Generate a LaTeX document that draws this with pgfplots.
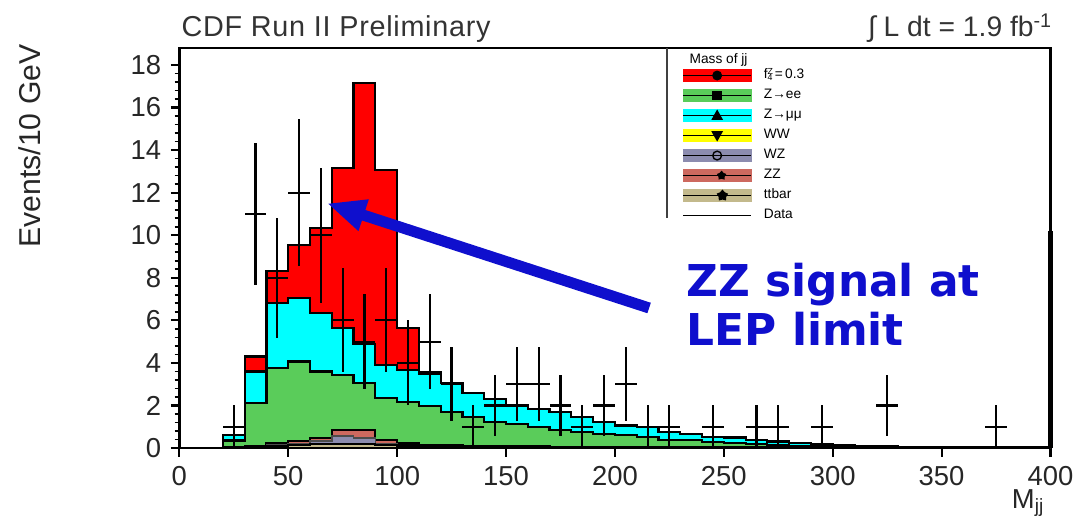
\documentclass[border=0pt]{standalone}
\usepackage{fontspec}
\setmainfont{Liberation Sans}
\newfontfamily\dejavu{DejaVu Sans}
\usepackage{pgfplots}
\usepackage{pgfplotstable}
\pgfplotsset{compat=1.18}
\usetikzlibrary{arrows.meta,shapes.geometric}

\definecolor{sigred}{RGB}{255,0,0}
\definecolor{zmm}{RGB}{0,255,255}
\definecolor{zee}{RGB}{90,204,90}
\definecolor{zzcol}{RGB}{205,105,95}
\definecolor{wzcol}{RGB}{140,140,175}
\definecolor{ttcol}{RGB}{195,185,140}
\definecolor{wwcol}{RGB}{255,255,0}
\definecolor{annblue}{RGB}{15,15,205}

% cumulative stack heights per 10 GeV bin (lower edge)
\pgfplotstableread{
lo red cyan green zz wz tt
20 0.62 0.62 0.35 0.03 0.02 0.01
30 4.30 3.60 2.10 0.08 0.05 0.03
40 8.30 6.80 3.75 0.23 0.15 0.10
50 9.55 7.04 4.07 0.34 0.22 0.15
60 10.33 6.34 3.60 0.47 0.32 0.20
70 13.15 5.65 3.44 0.86 0.55 0.20
80 17.14 4.90 3.05 0.86 0.47 0.18
90 13.07 3.90 2.35 0.39 0.20 0.15
100 5.63 3.68 2.15 0.23 0.15 0.12
110 3.55 3.49 1.96 0.15 0.12 0.10
120 3.05 3.05 1.69 0.12 0.10 0.08
130 2.58 2.58 1.46 0.10 0.08 0.07
140 2.30 2.30 1.22 0.09 0.07 0.06
150 2.00 2.00 1.14 0.08 0.06 0.05
160 1.85 1.85 0.99 0.07 0.05 0.04
170 1.69 1.69 0.83 0.06 0.05 0.04
180 1.46 1.46 0.75 0.05 0.04 0.03
190 1.22 1.22 0.67 0.05 0.04 0.03
200 1.06 1.06 0.60 0.04 0.03 0.03
210 0.99 0.99 0.52 0.04 0.03 0.02
220 0.75 0.75 0.39 0.03 0.03 0.02
230 0.67 0.67 0.36 0.03 0.02 0.02
240 0.52 0.52 0.28 0.03 0.02 0.02
250 0.49 0.49 0.23 0.02 0.02 0.01
260 0.39 0.39 0.18 0.02 0.02 0.01
270 0.31 0.31 0.14 0.02 0.01 0.01
280 0.23 0.23 0.10 0.02 0.01 0.01
290 0.19 0.19 0.08 0.01 0.01 0.01
300 0.14 0.14 0.06 0.01 0.01 0.01
310 0.10 0.10 0.05 0.01 0.01 0.01
320 0.07 0.07 0.04 0.01 0.01 0
330 0.06 0.06 0.03 0.01 0.01 0
340 0.05 0.05 0.03 0.01 0 0
350 0.05 0.05 0.02 0.01 0 0
360 0.04 0.04 0.02 0.01 0 0
370 0.04 0.04 0.02 0 0 0
380 0.03 0.03 0.01 0 0 0
390 0.03 0.03 0.01 0 0 0
400 0.03 0.03 0.01 0 0 0
}\hist

% data points, Poisson errors
\pgfplotstableread{
x y ey
25 1 1
35 11 3.317
45 8 2.828
55 12 3.464
65 10 3.162
75 6 2.449
85 5 2.236
95 6 2.449
105 4 2
115 5 2.236
125 3 1.732
135 1 1
145 2 1.414
155 3 1.732
165 3 1.732
175 2 1.414
185 1 1
195 2 1.414
205 3 1.732
215 1 1
225 1 1
245 1 1
265 1 1
275 1 1
295 1 1
325 2 1.414
375 1 1
}\data

\begin{document}
\begin{tikzpicture}
\path[use as bounding box] (-2.299cm,-0.962cm) rectangle (11.699cm,5.743cm);
\begin{axis}[
  at={(0,0)}, anchor=south west,
  scale only axis, width=11.167cm, height=5.128cm,
  xmin=0, xmax=400, ymin=0, ymax=18.8,
  xtick={0,50,...,400}, ytick={0,2,...,18},
  minor y tick num=4,
  xtick pos=bottom, ytick pos=left,
  tick align=outside,
  major tick length=0.11cm, minor tick length=0.06cm,
  axis line style={line width=1pt},
  every tick/.style={black, line width=0.8pt},
  every minor tick/.style={black, line width=0.6pt},
  ticklabel style={font=\fontsize{10}{12}\selectfont, text=black!85},
  /pgf/number format/assume math mode=true,
  clip=false,
  legend cell align=left,
  legend style={at={(axis description cs:0.577,0.9575)}, anchor=north west,
    draw=none, fill=none, inner sep=0pt, row sep=0pt, column sep=4.4bp,
    font=\fontsize{5}{6}\selectfont,
    nodes={inner sep=0pt, minimum height=7.27bp}},
]
\addplot[const plot, fill=sigred, draw=black, line width=0.8pt, forget plot] table[x=lo,y=red]{\hist} \closedcycle;
\addplot[const plot, fill=zmm, draw=black, line width=0.8pt, forget plot] table[x=lo,y=cyan]{\hist} \closedcycle;
\addplot[const plot, fill=zee, draw=black, line width=0.8pt, forget plot] table[x=lo,y=green]{\hist} \closedcycle;
\addplot[const plot, fill=zzcol, draw=black, line width=0.8pt, forget plot] table[x=lo,y=zz]{\hist} \closedcycle;
\addplot[const plot, fill=wzcol, draw=black!70, line width=0.6pt, forget plot] table[x=lo,y=wz]{\hist} \closedcycle;
\addplot[const plot, fill=ttcol, draw=black, line width=0.8pt, forget plot] table[x=lo,y=tt]{\hist} \closedcycle;

\addplot[mark=none, draw=none, forget plot,
  error bars/.cd, x dir=both, x fixed=5, y dir=both, y explicit,
  error mark=none, error bar style={draw=black, solid, line width=0.8pt}]
  table[x=x, y=y, y error=ey]{\data};

% overflow marker at the right edge
\addplot[black, line width=2pt, forget plot] coordinates {(400,0) (400,10.2)};

\addlegendimage{legend image code/.code={
  \fill[sigred] (0cm,-2.2bp) rectangle (0.87cm,2.2bp);
  \draw[black,line width=0.5pt] (0cm,0cm) -- (0.87cm,0cm);
  \fill[black] (0.435cm,0cm) circle (1.6bp);}}
\addlegendentry{f\rlap{\raisebox{1.3pt}{\fontsize{3.2}{3.5}\selectfont Z}}\raisebox{-0.6pt}{\fontsize{3.2}{3.5}\selectfont 4}\,=\,0.3}
\addlegendimage{legend image code/.code={
  \fill[zee] (0cm,-2.2bp) rectangle (0.87cm,2.2bp);
  \draw[black,line width=0.5pt] (0cm,0cm) -- (0.87cm,0cm);
  \fill[black] (0.435cm-1.6bp,-1.6bp) rectangle (0.435cm+1.6bp,1.6bp);}}
\addlegendentry{Z→ee}
\addlegendimage{legend image code/.code={
  \fill[zmm] (0cm,-2.2bp) rectangle (0.87cm,2.2bp);
  \draw[black,line width=0.5pt] (0cm,0cm) -- (0.87cm,0cm);
  \fill[black] (0.435cm-1.8bp,-1.4bp) -- (0.435cm+1.8bp,-1.4bp) -- (0.435cm,1.8bp) -- cycle;}}
\addlegendentry{Z→μμ}
\addlegendimage{legend image code/.code={
  \fill[wwcol] (0cm,-2.2bp) rectangle (0.87cm,2.2bp);
  \draw[black,line width=0.5pt] (0cm,0cm) -- (0.87cm,0cm);
  \fill[black] (0.435cm-1.8bp,1.4bp) -- (0.435cm+1.8bp,1.4bp) -- (0.435cm,-1.8bp) -- cycle;}}
\addlegendentry{WW}
\addlegendimage{legend image code/.code={
  \fill[wzcol] (0cm,-2.2bp) rectangle (0.87cm,2.2bp);
  \draw[black,line width=0.5pt] (0cm,0cm) -- (0.87cm,0cm);
  \draw[black,line width=0.5pt] (0.435cm,0cm) circle (1.6bp);}}
\addlegendentry{WZ}
\addlegendimage{legend image code/.code={
  \fill[zzcol] (0cm,-2.2bp) rectangle (0.87cm,2.2bp);
  \draw[black,line width=0.5pt] (0cm,0cm) -- (0.87cm,0cm);
  \node[star, star points=5, fill=black, inner sep=0pt, minimum size=3.6bp] at (0.435cm,0cm) {};}}
\addlegendentry{ZZ}
\addlegendimage{legend image code/.code={
  \fill[ttcol] (0cm,-2.2bp) rectangle (0.87cm,2.2bp);
  \draw[black,line width=0.5pt] (0cm,0cm) -- (0.87cm,0cm);
  \node[star, star points=5, fill=black, inner sep=0pt, minimum size=4.4bp] at (0.435cm,0cm) {};}}
\addlegendentry{ttbar}
\addlegendimage{legend image code/.code={
  \draw[black,line width=0.4pt] (0cm,0cm) -- (0.87cm,0cm);}}
\addlegendentry{Data}

\node[anchor=west, font=\fontsize{5}{6}\selectfont] at (rel axis cs:0.5746,0.97) {Mass of jj};
\draw[black!75, line width=0.6pt] (rel axis cs:0.5595,1) -- (rel axis cs:0.5595,0.575);

\node[anchor=base west, inner sep=0pt, font=\fontsize{10.5}{12}\selectfont\addfontfeature{LetterSpace=2.5}, text=black!80] at (rel axis cs:0.002,1.0275) {CDF Run II Preliminary};
\node[anchor=base east, inner sep=0pt, font=\fontsize{10.3}{12}\selectfont, text=black!80] at (rel axis cs:1.003,1.0275) {∫ L dt = 1.9 fb\textsuperscript{-1}};
\node[rotate=90, font=\fontsize{11}{13}\selectfont, text=black!85] at (rel axis cs:-0.1713,0.755) {Events/10 GeV};
\node[anchor=north east, inner sep=0pt, font=\fontsize{10}{12}\selectfont, text=black!85] at (rel axis cs:0.994,-0.1025) {M\textsubscript{jj}};

\draw[annblue, line width=4bp, -{Triangle[length=14bp,width=11bp]}] (axis cs:215.7,6.58) -- (axis cs:67.8,11.5);
\node[anchor=base west, inner sep=0pt, font=\dejavu\bfseries\fontsize{16}{19}\selectfont, text=annblue] at (axis cs:232.7,7.10) {ZZ signal at};
\node[anchor=base west, inner sep=0pt, font=\dejavu\bfseries\fontsize{16}{19}\selectfont, text=annblue] at (axis cs:232.7,4.84) {LEP limit};
\end{axis}
\end{tikzpicture}
\end{document}
